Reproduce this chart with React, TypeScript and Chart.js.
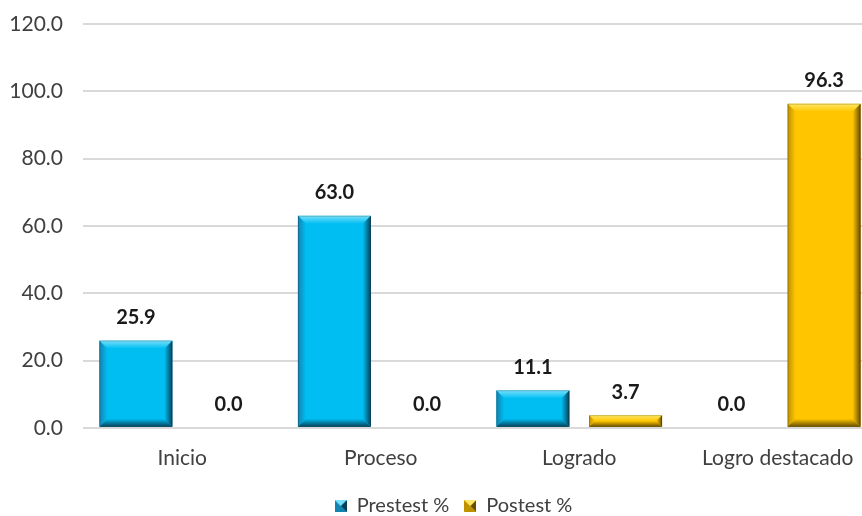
import React, { useEffect, useRef } from "react";
import { Chart, registerables } from "chart.js";

Chart.register(...registerables);

const categories = ["Inicio", "Proceso", "Logrado", "Logro destacado"];
const prestest = [25.9, 63.0, 11.1, 0.0];
const postest = [0.0, 0.0, 3.7, 96.3];
const seriesNames = ["Prestest %", "Postest %"];

const PALETTE = [
  { main: "rgb(0,190,242)", light: "rgb(120,224,252)", dark: "rgb(8,62,86)", mid: "rgb(20,130,175)" },
  { main: "rgb(255,198,0)", light: "rgb(255,232,100)", dark: "rgb(100,76,0)", mid: "rgb(190,145,0)" },
];

const FONT = "Lato, 'Open Sans', 'DejaVu Sans', sans-serif";

function drawBevel(ctx: CanvasRenderingContext2D, l: number, t: number, r: number, bot: number, c: any) {
  const w = r - l;
  const h = bot - t;
  if (h <= 0.5 || w <= 0.5) return;
  const b = Math.min(8, h / 2, w / 2);
  ctx.save();
  ctx.fillStyle = c.main;
  ctx.fillRect(l, t, w, h);
  let g = ctx.createLinearGradient(0, t, 0, t + b);
  g.addColorStop(0, c.light);
  g.addColorStop(1, c.main);
  ctx.fillStyle = g;
  ctx.beginPath();
  ctx.moveTo(l, t); ctx.lineTo(r, t); ctx.lineTo(r - b, t + b); ctx.lineTo(l + b, t + b); ctx.closePath();
  ctx.fill();
  g = ctx.createLinearGradient(l, 0, l + b, 0);
  g.addColorStop(0, c.mid);
  g.addColorStop(1, c.main);
  ctx.fillStyle = g;
  ctx.beginPath();
  ctx.moveTo(l, t); ctx.lineTo(l + b, t + b); ctx.lineTo(l + b, bot - b); ctx.lineTo(l, bot); ctx.closePath();
  ctx.fill();
  g = ctx.createLinearGradient(0, bot - b, 0, bot);
  g.addColorStop(0, c.main);
  g.addColorStop(1, c.dark);
  ctx.fillStyle = g;
  ctx.beginPath();
  ctx.moveTo(l, bot); ctx.lineTo(r, bot); ctx.lineTo(r - b, bot - b); ctx.lineTo(l + b, bot - b); ctx.closePath();
  ctx.fill();
  g = ctx.createLinearGradient(r - b, 0, r, 0);
  g.addColorStop(0, c.main);
  g.addColorStop(1, c.dark);
  ctx.fillStyle = g;
  ctx.beginPath();
  ctx.moveTo(r, t); ctx.lineTo(r, bot); ctx.lineTo(r - b, bot - b); ctx.lineTo(r - b, t + b); ctx.closePath();
  ctx.fill();
  ctx.strokeStyle = "rgba(0,0,0,0.25)";
  ctx.lineWidth = 0.8;
  ctx.strokeRect(l + 0.4, t + 0.4, w - 0.8, h - 0.8);
  ctx.restore();
}

function legendIcon(c: any) {
  const cv = document.createElement("canvas");
  cv.width = 12;
  cv.height = 12;
  const ctx = cv.getContext("2d")!;
  ctx.fillStyle = c.main;
  ctx.fillRect(0, 0, 12, 12);
  ctx.fillStyle = c.dark;
  ctx.beginPath(); ctx.moveTo(12, 0); ctx.lineTo(12, 12); ctx.lineTo(6, 6); ctx.closePath(); ctx.fill();
  ctx.fillStyle = c.mid;
  ctx.beginPath(); ctx.moveTo(0, 0); ctx.lineTo(0, 12); ctx.lineTo(6, 6); ctx.closePath(); ctx.fill();
  ctx.fillStyle = c.light;
  ctx.beginPath(); ctx.moveTo(0, 0); ctx.lineTo(12, 0); ctx.lineTo(6, 6); ctx.closePath(); ctx.fill();
  ctx.fillStyle = c.mid;
  ctx.beginPath(); ctx.moveTo(0, 12); ctx.lineTo(12, 12); ctx.lineTo(6, 6); ctx.closePath(); ctx.fill();
  return cv;
}

const noLabelClip = {
  id: "noLabelClip",
  beforeDraw(chart: any) {
    const y = chart.scales.y;
    if (y) y._computeLabelArea = () => undefined;
  },
};

const bevelPlugin = {
  id: "bevelBars",
  afterDatasetsDraw(chart: any) {
    const ctx = chart.ctx;
    chart.data.datasets.forEach((ds: any, di: number) => {
      const meta = chart.getDatasetMeta(di);
      meta.data.forEach((el: any, i: number) => {
        const p = el.getProps(["x", "y", "base", "width"], true);
        const l = p.x - p.width / 2;
        const r = p.x + p.width / 2;
        const t = Math.min(p.y, p.base);
        const bot = Math.max(p.y, p.base);
        drawBevel(ctx, l, t, r, bot, PALETTE[di]);
        ctx.save();
        ctx.font = `bold 20px ${FONT}`;
        ctx.fillStyle = "#1a1a1a";
        ctx.textAlign = "center";
        ctx.textBaseline = "middle";
        ctx.fillText(Number(ds.data[i]).toFixed(1), p.x, t - 23);
        ctx.restore();
      });
    });
  },
};

export default function App() {
  const ref = useRef<HTMLCanvasElement>(null);
  useEffect(() => {
    if (!ref.current) return;
    const icons = PALETTE.map(legendIcon);
    const chart = new Chart(ref.current, {
      type: "bar",
      data: {
        labels: categories,
        datasets: [
          { label: seriesNames[0], data: prestest, backgroundColor: "rgba(0,0,0,0)", borderWidth: 0, pointStyle: icons[0] as any },
          { label: seriesNames[1], data: postest, backgroundColor: "rgba(0,0,0,0)", borderWidth: 0, pointStyle: icons[1] as any },
        ],
      },
      plugins: [noLabelClip, bevelPlugin],
      options: {
        animation: false,
        responsive: true,
        maintainAspectRatio: false,
        layout: { padding: { left: 30, right: 1, top: 24, bottom: 0 } },
        datasets: { bar: { categoryPercentage: 0.934, barPercentage: 0.787 } },
        plugins: {
          tooltip: { enabled: false },
          legend: {
            position: "bottom",
            labels: {
              usePointStyle: true,
              font: { family: FONT, size: 20 },
              color: "#404040",
              padding: 15,
              boxWidth: 12,
              boxHeight: 12,
            },
          },
        },
        scales: {
          x: {
            grid: { display: false },
            border: { display: false },
            ticks: { font: { family: FONT, size: 21 }, color: "#404040", padding: 10, maxRotation: 0 },
          },
          y: {
            min: 0,
            max: 120,
            ticks: {
              stepSize: 20,
              font: { family: FONT, size: 21 },
              color: "#404040",
              padding: 20,
              callback: (v: any) => Number(v).toFixed(1),
            },
            grid: { color: "#d9d9d9", lineWidth: 2, drawTicks: false },
            border: { display: false },
            afterFit: (s: any) => { s.width = 53; s.paddingTop = 0; s.paddingBottom = 0; },
          },
        },
      },
    });
    return () => chart.destroy();
  }, []);
  return (
    <div style={{ position: "fixed", left: 0, top: 0, width: 862, height: 516, overflow: "hidden", background: "#fff" }}>
      <div style={{ position: "relative", width: 878, height: 526 }}>
        <canvas ref={ref} />
      </div>
    </div>
  );
}
